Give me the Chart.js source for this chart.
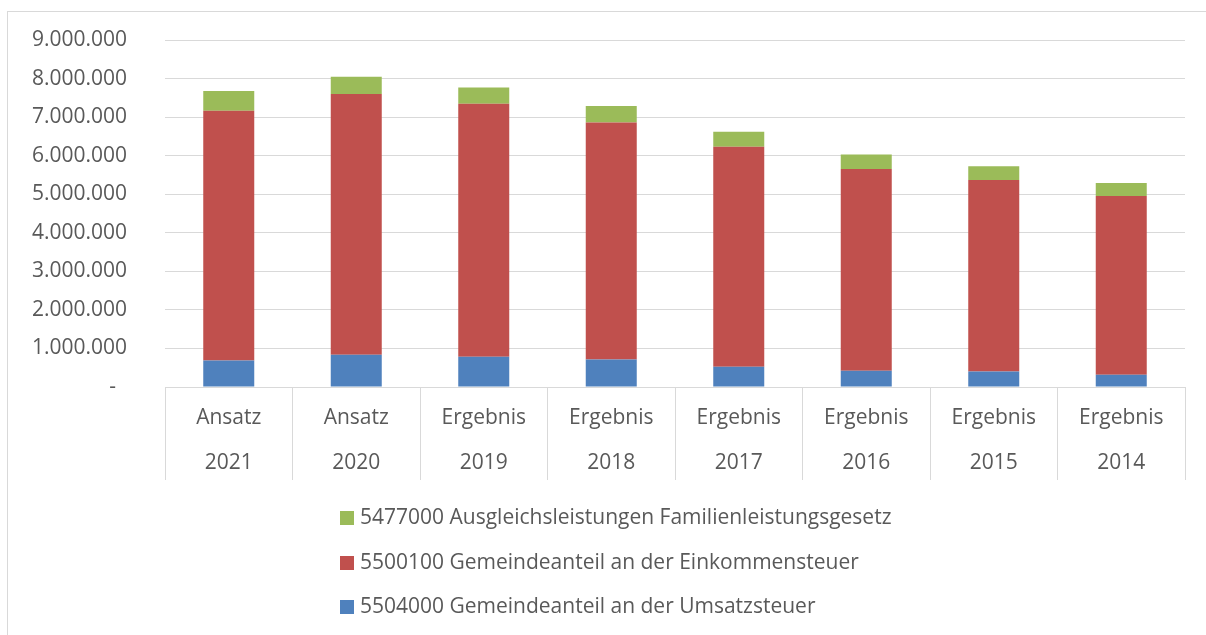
<!DOCTYPE html>
<html>
<head>
<meta charset="utf-8">
<script src="https://cdn.jsdelivr.net/npm/chart.js@4"></script>
<style>
  body { margin: 0; background: #fff; overflow: hidden; }
  #wrap { position: relative; width: 1206px; height: 635px; }
  #frame { position: absolute; left: 7px; top: 11px; width: 1220px; height: 640px; border: 1px solid #d9d9d9; box-sizing: border-box; }
  #myGraph { position: absolute; left: 0; top: 0; }
  #legend { position: absolute; left: 340px; top: 500px; font-family: "Open Sans", sans-serif; font-size: 21px; color: #595959; }
  .item { height: 44.5px; line-height: 32px; white-space: nowrap; }
  .box { display: inline-block; width: 14px; height: 14px; margin-right: 6px; vertical-align: -1px; }
</style>
</head>
<body>
<div id="wrap">
  <div id="frame"></div>
  <canvas id="myGraph" width="1206" height="635"></canvas>
  <div id="legend"></div>
</div>
<script>
const labelTop = ['Ansatz', 'Ansatz', 'Ergebnis', 'Ergebnis', 'Ergebnis', 'Ergebnis', 'Ergebnis', 'Ergebnis'];
const labelYears = ['2021', '2020', '2019', '2018', '2017', '2016', '2015', '2014'];

// Werte
const umsatzsteuer = [688000, 836000, 784000, 714000, 525000, 421000, 403000, 317000];
const einkommensteuer = [6476000, 6761000, 6561000, 6148000, 5704000, 5236000, 4968000, 4639000];
const familienleistung = [511000, 450000, 426000, 424000, 389000, 374000, 356000, 338000];

const seriesNames = [
  '5504000 Gemeindeanteil an der Umsatzsteuer',
  '5500100 Gemeindeanteil an der Einkommensteuer',
  '5477000 Ausgleichsleistungen Familienleistungsgesetz'
];
const seriesColors = ['#4f81bd', '#c0504d', '#9bbb59'];

const textColor = '#595959';
const gridColor = '#d9d9d9';
const fontFamily = '"Open Sans", sans-serif';

function formatNumber(v) {
  if (v === 0) return '-  ';
  return String(v).replace(/\B(?=(\d{3})+(?!\d))/g, '.');
}

const graph = document.getElementById('myGraph');
const labels = labelTop.map((t, i) => [t, labelYears[i]]);
const values = [umsatzsteuer, einkommensteuer, familienleistung];

const chart = new Chart(graph, {
  type: 'bar',
  data: {
    labels: labels,
    datasets: values.map((data, i) => ({
      label: seriesNames[i],
      data: data,
      backgroundColor: seriesColors[i],
      borderWidth: 0,
      categoryPercentage: 0.8,
      barPercentage: 0.5
    }))
  },
  options: {
    responsive: false,
    animation: false,
    layout: { padding: { top: 40, right: 21, bottom: 0, left: 0 } },
    plugins: {
      legend: { display: false },
      tooltip: { enabled: false }
    },
    scales: {
      x: {
        stacked: true,
        border: { display: true, color: gridColor },
        grid: {
          offset: true,
          drawOnChartArea: false,
          drawTicks: true,
          tickLength: 93,
          color: gridColor
        },
        ticks: {
          color: textColor,
          padding: -84.5,
          maxRotation: 0,
          font: { family: fontFamily, size: 21, lineHeight: 2.15 }
        },
        afterFit: (scale) => { scale.height = 248; }
      },
      y: {
        stacked: true,
        min: 0,
        max: 9000000,
        border: { display: false },
        grid: { color: gridColor, drawTicks: false },
        ticks: {
          stepSize: 1000000,
          color: textColor,
          padding: 38,
          font: { family: fontFamily, size: 21 },
          callback: (v) => formatNumber(v)
        },
        afterFit: (scale) => {
          scale.width = 165;
          // Tick-Padding nicht oben/unten anrechnen
          scale.paddingTop = 0;
          scale.paddingBottom = 0;
        }
      }
    }
  }
});

// Legende: oberste Reihe zuerst
const legend = document.getElementById('legend');
for (let i = seriesNames.length - 1; i >= 0; i--) {
  const row = document.createElement('div');
  row.className = 'item';
  row.innerHTML = '<span class="box" style="background:' + seriesColors[i] + '"></span>' + seriesNames[i];
  legend.appendChild(row);
}
</script>
</body>
</html>
